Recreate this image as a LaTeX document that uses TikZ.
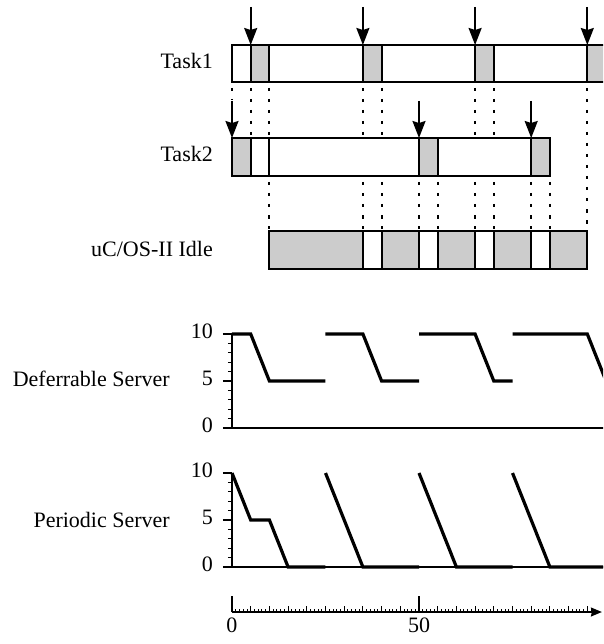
\documentclass[tikz,border=0pt]{standalone}
\usepackage{fontspec}
\setmainfont{Liberation Serif}
\usetikzlibrary{arrows.meta}
\definecolor{busygray}{HTML}{CCCCCC}
\tikzset{
  seg/.style={draw=black, line width=1.8pt, fill=white},
  busy/.style={seg, fill=busygray},
  release/.style={line width=1.9pt, -{Stealth[length=17pt,width=13pt,inset=2pt]}},
  guide/.style={line width=2pt, dash pattern=on 3.5pt off 7.5pt},
  budget/.style={line width=3.2pt, line join=miter},
  axisline/.style={line width=1.8pt},
  tickline/.style={line width=1.1pt},
  lbl/.style={inner sep=0pt, anchor=base east, font=\fontsize{22}{26}\selectfont},
  num/.style={inner sep=0pt, anchor=base, font=\fontsize{22}{26}\selectfont}
}
\begin{document}
\begin{tikzpicture}[x=3.74pt, y=-1pt]
\begin{scope}[xshift=232pt]
\clip (-62.03,0) rectangle (99.2,644);

% ---- Task1 timeline ----
\foreach \a/\b/\s in {0/5/seg,5/10/busy,10/35/seg,35/40/busy,40/65/seg,65/70/busy,70/95/seg,95/103/busy}
  \path[\s] (\a,45) rectangle (\b,82);
\node[lbl] (task1) at (-5.08,69) {Task1};
\foreach \t in {5,35,65,95}
  \draw[release] (\t,7) -- (\t,45);

% ---- Task2 timeline ----
\foreach \a/\b/\s in {0/5/busy,5/10/seg,10/50/seg,50/55/busy,55/80/seg,80/85/busy}
  \path[\s] (\a,138) rectangle (\b,176);
\node[lbl] (task2) at (-5.08,162) {Task2};
\foreach \t in {0,50,80}
  \draw[release] (\t,101) -- (\t,138);

% ---- Idle task ----
\foreach \a/\b/\s in {10/35/busy,35/40/seg,40/50/busy,50/55/seg,55/65/busy,65/70/seg,70/80/busy,80/85/seg,85/95/busy}
  \path[\s] (\a,231) rectangle (\b,269);
\node[lbl] (idle) at (-5.08,256) {uC/OS-II Idle};

% ---- dotted guides between the rows ----
\draw[guide] (0,88) -- (0,100);
\foreach \t in {5,10,35,40,65,70}
  \draw[guide] (\t,88) -- (\t,136);
\draw[guide] (95,88) -- (95,229);
\foreach \t in {10,35,40,50,55,65,70,80,85}
  \draw[guide] (\t,182) -- (\t,229);

% ---- Deferrable Server budget ----
\node[lbl] (dslabel) at (-16.58,386) {Deferrable Server};
\draw[axisline] (0,334) -- (0,428);
\draw[axisline] (0,428) -- (103,428);
\foreach \v in {1,2,3,4,6,7,8,9}
  \draw[tickline] (-1.07,428-9.4*\v) -- (0,428-9.4*\v);
\foreach \v/\yy in {0/428,5/381,10/334}{
  \draw[tickline] (-2.41,\yy) -- (0,\yy);
  \node[lbl] (ds\v) at (-5.08,\yy+4.5) {\v};
}
\draw[budget] (0,334) -- (5,334) -- (10,381) -- (25,381);
\draw[budget] (25,334) -- (35,334) -- (40,381) -- (50,381);
\draw[budget] (50,334) -- (65,334) -- (70,381) -- (75,381);
\draw[budget] (75,334) -- (95,334) -- (100,381);

% ---- Periodic Server budget ----
\node[lbl] (pslabel) at (-16.58,527) {Periodic Server};
\draw[axisline] (0,473) -- (0,567);
\draw[axisline] (0,567) -- (103,567);
\foreach \v in {1,2,3,4,6,7,8,9}
  \draw[tickline] (-1.07,567-9.4*\v) -- (0,567-9.4*\v);
\foreach \v/\yy in {0/567,5/520,10/473}{
  \draw[tickline] (-2.41,\yy) -- (0,\yy);
  \node[lbl] (ps\v) at (-5.08,\yy+4.5) {\v};
}
\draw[budget] (0,473) -- (5,520) -- (10,520) -- (15,567) -- (25,567);
\draw[budget] (25,473) -- (35,567) -- (50,567);
\draw[budget] (50,473) -- (60,567) -- (75,567);
\draw[budget] (75,473) -- (85,567) -- (103,567);

% ---- time axis ----
\coordinate (t0) at (0,612);
\coordinate (tend) at (98.9,612);
\draw[axisline, line width=1.5pt, -{Stealth[length=11pt,width=9pt,inset=1pt]}] (t0) -- (tend);
\foreach \t in {1,...,97}{
  \pgfmathtruncatemacro{\r}{mod(\t,5)}
  \ifnum\r=0
    \draw[tickline, line width=0.9pt] (\t,612) -- (\t,606);
  \else
    \draw[tickline, line width=0.9pt] (\t,612) -- (\t,609);
  \fi
}
\draw[tickline] (0,612) -- (0,596);
\draw[tickline] (50,612) -- (50,596);
\node[num] (x0) at (0,632) {0};
\node[num] (x50) at (50,632) {50};
\end{scope}
\end{tikzpicture}
\end{document}
